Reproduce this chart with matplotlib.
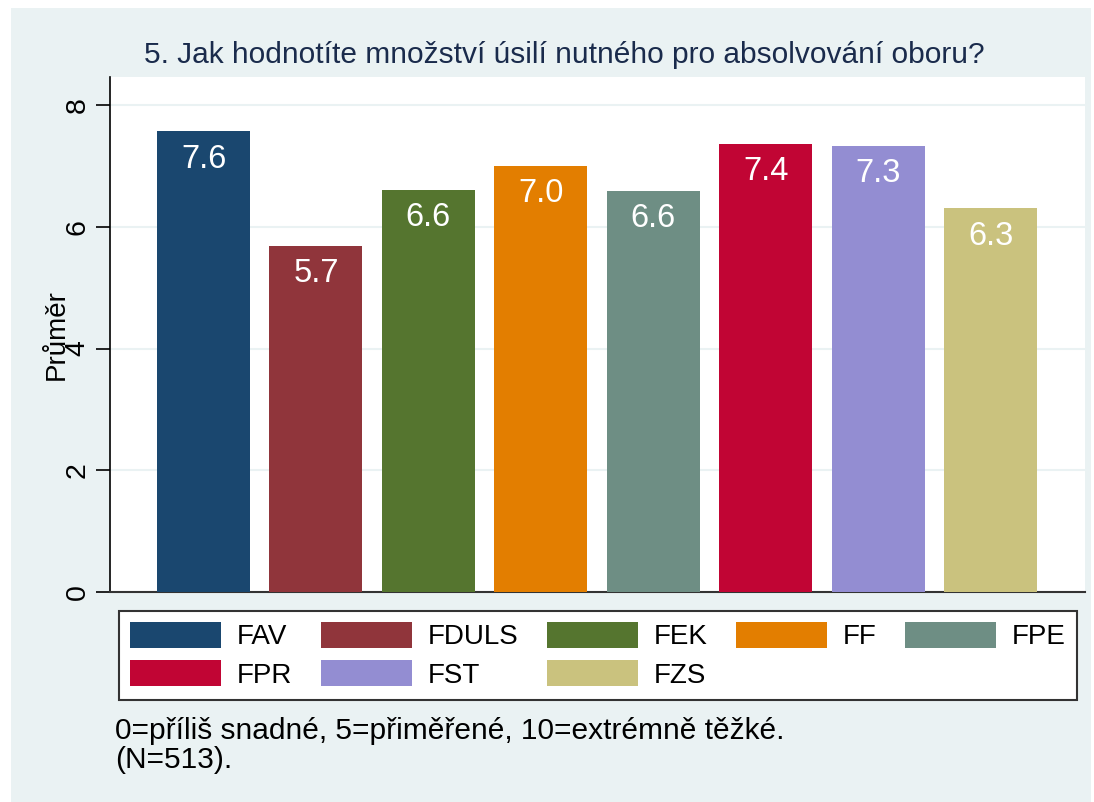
import matplotlib
matplotlib.use("Agg")
import matplotlib.pyplot as plt
from matplotlib.patches import Rectangle, Patch

plt.rcParams['font.family'] = ['Liberation Sans', 'DejaVu Sans']

categories = ["FAV", "FDULS", "FEK", "FF", "FPE", "FPR", "FST", "FZS"]
values = [7.57, 5.69, 6.61, 7.00, 6.59, 7.36, 7.33, 6.30]
colors = ["#1A476F", "#90353B", "#55752F", "#E37E00", "#6E8E84",
          "#C10534", "#938DD2", "#CAC27E"]
yticks = [0, 2, 4, 6, 8]
title = "5. Jak hodnotíte množství úsilí nutného pro absolvování oboru?"
ylabel = "Průměr"
notes = ["0=příliš snadné, 5=přiměřené, 10=extrémně těžké.", "(N=513)."]
# legend order so that rows read FAV FDULS FEK FF FPE / FPR FST FZS
legend_order = [0, 5, 1, 6, 2, 7, 3, 4]

W, H = 1094, 802
fig = plt.figure(figsize=(W / 100, H / 100), dpi=100)
fig.patch.set_facecolor("white")
bg = "#EAF2F3"
fig.patches.append(Rectangle((11 / W, 0), (1091 - 11) / W, 1 - 8 / H,
                             transform=fig.transFigure, facecolor=bg,
                             edgecolor="none", zorder=-10))

ax = fig.add_axes([110 / W, 1 - 592 / H, (1085 - 110) / W, (592 - 77) / H])
ax.set_facecolor("white")
x = list(range(len(categories)))
bars = ax.bar(x, values, width=0.827, color=colors, edgecolor="none", zorder=3)
for xi, v in zip(x, values):
    ax.annotate(f"{v:.1f}", xy=(xi, v), xytext=(0, -28), textcoords="offset pixels",
                ha="center", va="center", color="white", fontsize=23.5, zorder=4)

ax.set_xlim(-0.832, 7.84)
ax.set_ylim(0, 8.46)
ax.set_xticks([])
ax.set_yticks(yticks)
ax.set_yticklabels([str(t) for t in yticks], rotation=90, va="center", fontsize=20.5)
ax.tick_params(axis="y", length=10, width=1.2, color="black", pad=4)
ax.grid(axis="y", color=bg, linewidth=1.5, zorder=0)
for s in ["top", "right"]:
    ax.spines[s].set_visible(False)
ax.spines["left"].set_linewidth(1.2)
ax.spines["bottom"].set_linewidth(1.5)
ax.spines["bottom"].set_color("#333333")
ax.set_ylabel(ylabel, fontsize=20, va="center")
ax.yaxis.set_label_coords((57 - 110) / 975, (592 - 335) / 515)

fig.text(564 / W, 1 - 55 / H, title, ha="center", va="center",
         fontsize=21.5, color="#1A2B4C")

handles = [Patch(facecolor=colors[i], edgecolor="none") for i in legend_order]
labels = [categories[i] for i in legend_order]
leg = fig.legend(handles, labels, loc="upper left",
                 bbox_to_anchor=(119 / W, 1 - 611 / H), ncol=5,
                 fontsize=20, frameon=True, fancybox=False, borderaxespad=0,
                 framealpha=1,
                 handlelength=3.27, handleheight=1.04, handletextpad=0.58,
                 columnspacing=1.02, labelspacing=0.36, borderpad=0.4)
leg.get_frame().set_edgecolor("#333333")
leg.get_frame().set_linewidth(1.5)
leg.get_frame().set_facecolor("white")

fig.text(115 / W, 1 - 731 / H, notes[0], ha="left", va="center", fontsize=21.5)
fig.text(115 / W, 1 - 760 / H, notes[1], ha="left", va="center", fontsize=21.5)

fig.savefig("out.png", dpi=100)
